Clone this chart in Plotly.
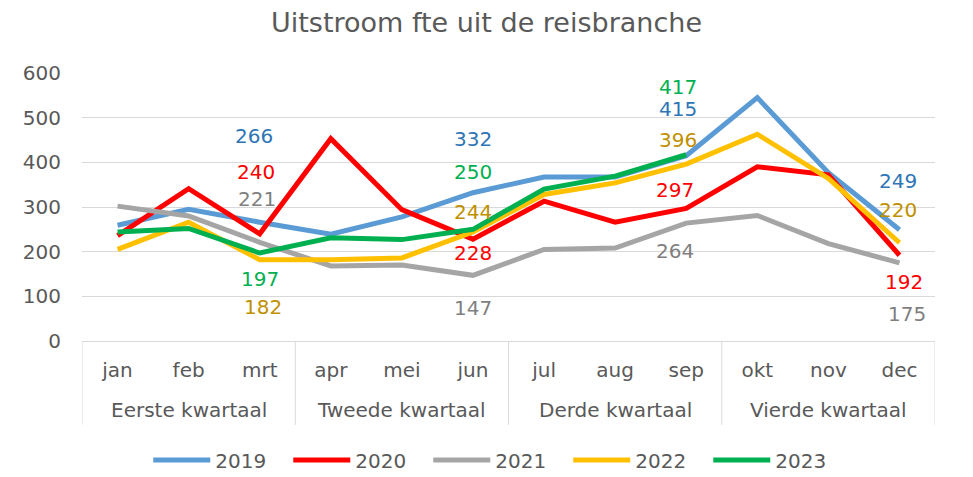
import plotly.graph_objects as go

months = ["jan", "feb", "mrt", "apr", "mei", "jun", "jul", "aug", "sep", "okt", "nov", "dec"]
quarters = ["Eerste kwartaal", "Tweede kwartaal", "Derde kwartaal", "Vierde kwartaal"]

y2019 = [259, 295, 266, 239, 278, 332, 367, 367, 415, 545, 377, 249]
y2020 = [236, 341, 240, 453, 294, 228, 313, 266, 297, 390, 372, 192]
y2021 = [302, 280, 221, 168, 170, 147, 205, 208, 264, 281, 218, 175]
y2022 = [205, 266, 182, 182, 186, 244, 328, 354, 396, 463, 364, 220]
y2023 = [244, 252, 197, 231, 227, 250, 340, 369, 417]

series = [
    ("2019", y2019, "#5B9BD5", "#2E75B6"),
    ("2020", y2020, "#FF0000", "#FF0000"),
    ("2021", y2021, "#A5A5A5", "#7F7F7F"),
    ("2022", y2022, "#FFC000", "#BF9000"),
    ("2023", y2023, "#00B050", "#00B050"),
]

# data-label placement (pixel offsets from the point), per series per labelled month index
label_offsets = {
    "2019": {2: (-6, -86), 5: (0, -54), 8: (-8, -47), 11: (-1, -49)},
    "2020": {2: (-4, -62), 5: (0, 14), 8: (-11, -18), 11: (5, 27)},
    "2021": {2: (-3, -43), 5: (0, 33), 8: (-11, 28), 11: (8, 51)},
    "2022": {2: (3, 47), 5: (0, -20), 8: (-8, -24), 11: (-1, -33)},
    "2023": {2: (0, 26), 5: (0, -57), 8: (-8, -68)},
}

font = "Verdana, 'DejaVu Sans', sans-serif"
grey_txt = "#595959"
fig = go.Figure()
for name, vals, col, lcol in series:
    n = len(vals)
    fig.add_trace(go.Scatter(
        x=months[:n], y=vals, name=name, mode="lines",
        line=dict(color=col, width=5),
    ))
    for i, (dx, dy) in label_offsets[name].items():
        fig.add_annotation(
            x=months[i], y=vals[i], text=str(vals[i]), showarrow=False,
            xshift=dx, yshift=-dy, font=dict(family=font, size=20, color=lcol),
        )

# quarter group labels and dividers
for q, name in enumerate(quarters):
    fig.add_annotation(x=months[3 * q + 1], y=-0.2575, xref="x", yref="paper", yanchor="middle",
                       text=name, showarrow=False, font=dict(family=font, size=20, color=grey_txt))
for k in range(len(quarters) + 1):
    fig.add_shape(type="line", xref="x", yref="paper", x0=3 * k - 0.5, x1=3 * k - 0.5, y0=0, y1=-0.313,
                  line=dict(color="#D9D9D9", width=1))

fig.update_layout(
    width=973, height=477,
    margin=dict(l=82, r=38, t=73, b=136, autoexpand=False),
    paper_bgcolor="white", plot_bgcolor="white",
    title=dict(text="Uitstroom fte uit de reisbranche", x=0.5, xanchor="center", y=0.952, yanchor="middle",
               font=dict(family=font, size=27, color=grey_txt)),
    font=dict(family=font, color=grey_txt, size=20),
    xaxis=dict(type="category", range=[-0.5, 11.5], showgrid=False, showline=True, linecolor="#D9D9D9",
               linewidth=1, ticks="", ticklabelstandoff=11, tickfont=dict(size=20, color=grey_txt)),
    yaxis=dict(range=[0, 600], dtick=100, showgrid=True, gridcolor="#D9D9D9", gridwidth=1,
               zeroline=False, showline=False, ticks="", ticklabelstandoff=20,
               tickfont=dict(size=20, color=grey_txt)),
    legend=dict(orientation="h", x=0.488, xanchor="center", y=-0.444, yanchor="middle",
                font=dict(size=20, color=grey_txt), itemwidth=57, entrywidth=68),
    showlegend=True,
)
fig.write_html("out.html", config={"displayModeBar": False},
               post_script="document.body.style.margin='0';")
